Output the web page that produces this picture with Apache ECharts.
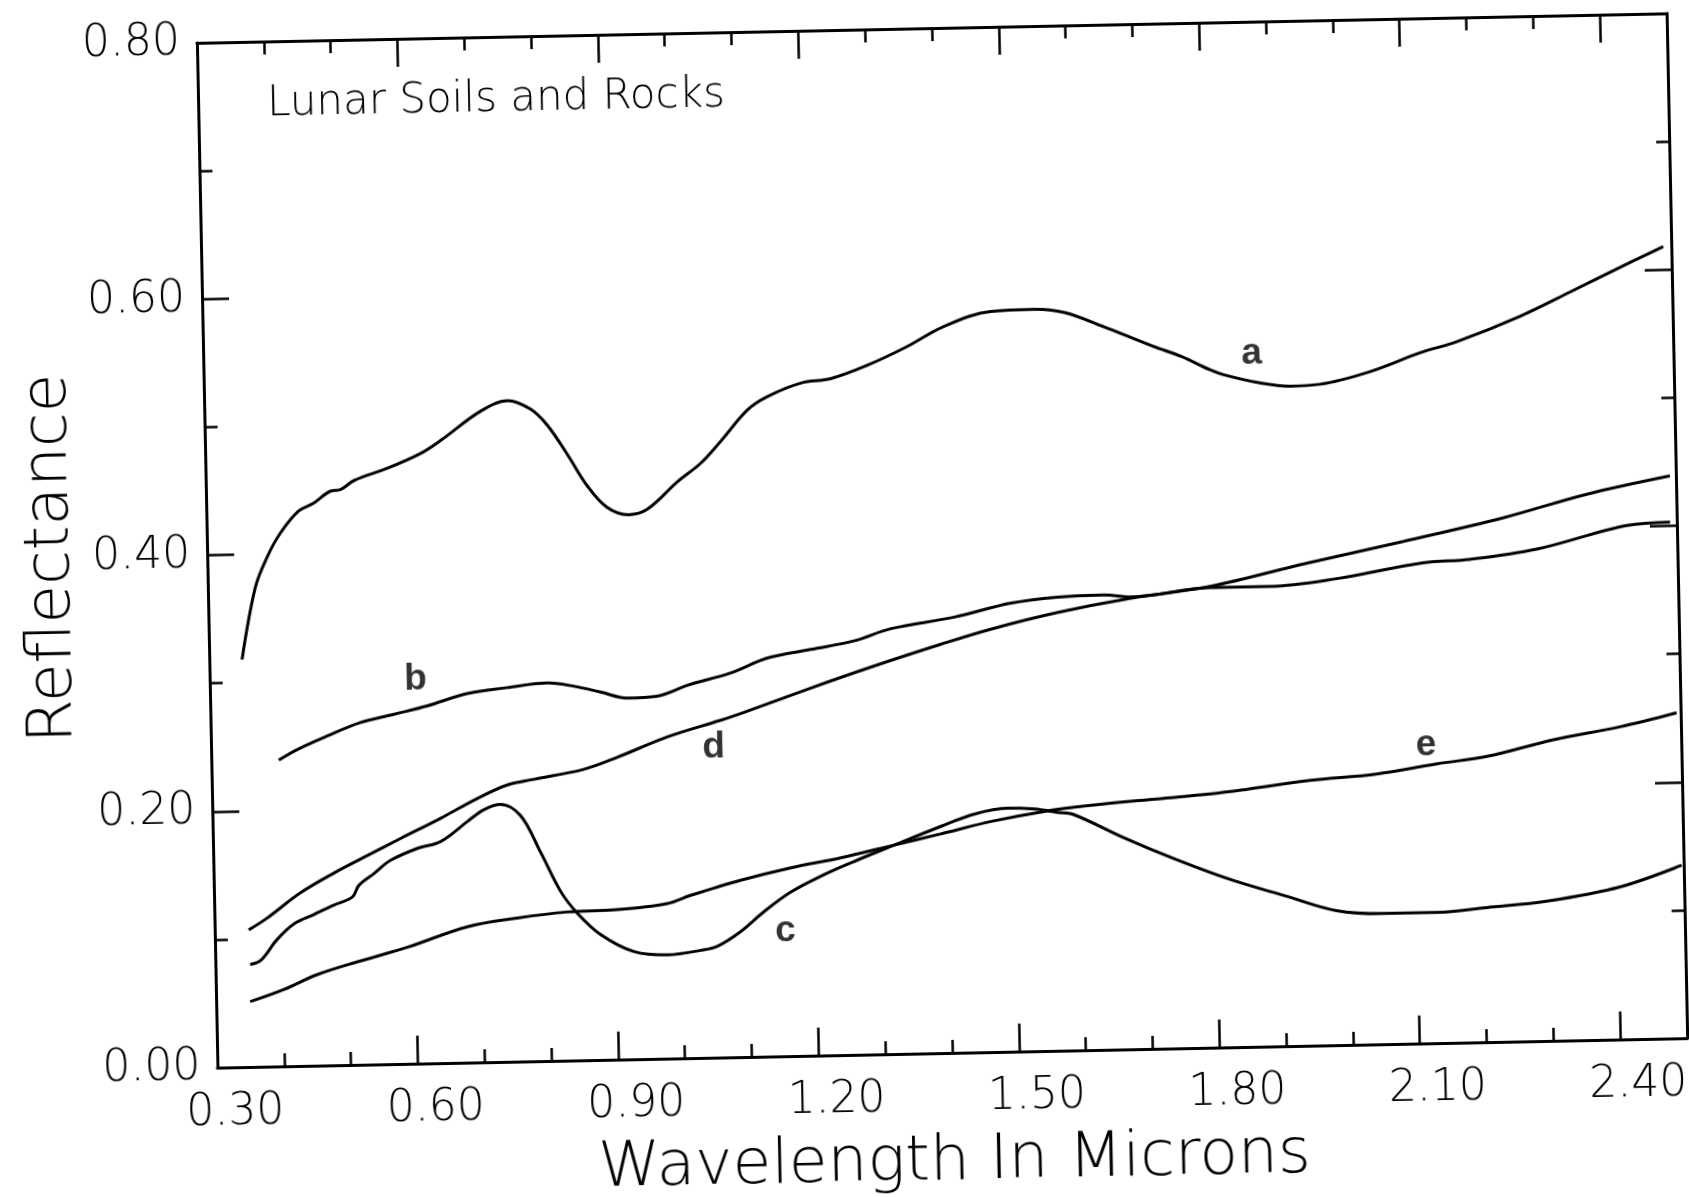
<!DOCTYPE html>
<html>
<head>
<meta charset="utf-8">
<title>Lunar Soils and Rocks</title>
<script src="https://cdn.jsdelivr.net/npm/echarts@6/dist/echarts.min.js"></script>
<style>
  html, body { margin: 0; padding: 0; background: #fff; overflow: hidden; }
  /* the printed figure sits slightly tilted on the page */
  #chart {
    width: 1689px; height: 1197px;
    transform: rotate(-1.15deg);
    transform-origin: 941.6px 538.8px;
  }
</style>
</head>
<body>
<div id="chart"></div>
<script>
// Reflectance spectra, [wavelength (microns), reflectance]
const curveA = [[0.349,0.318],[0.371,0.374],[0.390,0.398],[0.410,0.416],[0.438,0.433],[0.461,0.439],[0.486,0.448],[0.501,0.449],[0.522,0.456],[0.572,0.465],[0.622,0.476],[0.653,0.486],[0.713,0.508],[0.754,0.516],[0.788,0.509],[0.813,0.496],[0.842,0.473],[0.871,0.448],[0.900,0.431],[0.932,0.425],[0.960,0.429],[1.006,0.450],[1.041,0.464],[1.072,0.481],[1.113,0.505],[1.143,0.515],[1.193,0.525],[1.238,0.528],[1.294,0.538],[1.354,0.552],[1.409,0.567],[1.480,0.578],[1.545,0.579],[1.590,0.576],[1.654,0.563],[1.723,0.548],[1.763,0.540],[1.806,0.529],[1.826,0.525],[1.880,0.518],[1.925,0.515],[1.970,0.516],[2.045,0.525],[2.121,0.539],[2.176,0.547],[2.272,0.566],[2.347,0.584],[2.408,0.599],[2.488,0.618]];
const curveB = [[0.401,0.239],[0.429,0.247],[0.474,0.257],[0.524,0.267],[0.575,0.273],[0.625,0.279],[0.685,0.288],[0.745,0.292],[0.805,0.295],[0.845,0.292],[0.885,0.287],[0.924,0.282],[0.969,0.283],[1.015,0.291],[1.080,0.300],[1.135,0.311],[1.200,0.317],[1.265,0.323],[1.321,0.332],[1.416,0.340],[1.501,0.350],[1.571,0.354],[1.641,0.355],[1.681,0.353],[1.799,0.359],[1.889,0.359],[1.989,0.364],[2.119,0.375],[2.189,0.377],[2.290,0.384],[2.425,0.401],[2.490,0.403]];
const curveC = [[0.352,0.080],[0.368,0.083],[0.393,0.099],[0.419,0.111],[0.449,0.118],[0.479,0.125],[0.507,0.131],[0.517,0.140],[0.540,0.149],[0.565,0.159],[0.606,0.168],[0.641,0.173],[0.681,0.188],[0.706,0.197],[0.731,0.201],[0.761,0.192],[0.790,0.163],[0.819,0.132],[0.843,0.115],[0.877,0.098],[0.927,0.084],[0.977,0.081],[1.027,0.084],[1.052,0.087],[1.087,0.098],[1.122,0.113],[1.163,0.128],[1.213,0.141],[1.264,0.152],[1.319,0.163],[1.390,0.177],[1.440,0.186],[1.490,0.190],[1.530,0.189],[1.565,0.186],[1.589,0.184],[1.664,0.165],[1.738,0.148],[1.821,0.131],[1.905,0.117],[1.979,0.105],[2.049,0.102],[2.129,0.102],[2.204,0.105],[2.294,0.109],[2.404,0.119],[2.497,0.135]];
const curveD = [[0.351,0.107],[0.379,0.116],[0.429,0.135],[0.480,0.150],[0.530,0.163],[0.581,0.176],[0.641,0.191],[0.697,0.206],[0.742,0.216],[0.782,0.220],[0.857,0.227],[0.908,0.236],[0.983,0.251],[1.062,0.263],[1.093,0.268],[1.194,0.286],[1.294,0.303],[1.395,0.319],[1.470,0.330],[1.571,0.342],[1.681,0.352],[1.800,0.360],[1.940,0.376],[2.090,0.392],[2.241,0.409],[2.366,0.426],[2.491,0.439]];
const curveE = [[0.351,0.051],[0.402,0.060],[0.452,0.071],[0.517,0.081],[0.588,0.091],[0.678,0.106],[0.753,0.112],[0.828,0.116],[0.903,0.117],[0.978,0.121],[1.013,0.127],[1.088,0.138],[1.164,0.147],[1.239,0.154],[1.319,0.163],[1.389,0.171],[1.465,0.180],[1.545,0.187],[1.615,0.191],[1.715,0.195],[1.794,0.198],[1.848,0.201],[1.943,0.207],[2.043,0.211],[2.134,0.218],[2.209,0.223],[2.309,0.235],[2.409,0.244],[2.494,0.254]];

// Curve letters and where they are written
const curveNames = ['a', 'b', 'c', 'd', 'e'];
const namePositions = [[1.869, 0.541], [0.608, 0.2995], [1.154, 0.0974], [1.052, 0.242], [2.118, 0.2325]];

// Axis ranges and tick spacing
const xRange = [0.3, 2.5];
const xMajorStep = 0.3;
const xMinorStep = 0.1;
const yRange = [0, 0.8];
const yMajorStep = 0.2;

const titleText = 'Lunar Soils and Rocks';
const xTitle = 'Wavelength In Microns';
const yTitle = 'Reflectance';

const FONT = '"DejaVu Sans", "Liberation Sans", sans-serif';
const LIGHT = 200;
const INK = '#000';

function xAxisDef(position, step, tickLen, withLine, withLabels) {
  return {
    type: 'value', position: position, min: xRange[0], max: xRange[1], interval: step,
    axisLine: { show: withLine, lineStyle: { color: INK, width: 3 } },
    axisTick: { show: true, inside: true, length: tickLen, lineStyle: { color: INK, width: 2.5 } },
    axisLabel: withLabels ? {
      show: true, showMaxLabel: false, margin: 24, fontSize: 44, fontFamily: FONT, fontWeight: LIGHT,
      color: INK, padding: [0, 0, 0, 34],
      formatter: v => v.toFixed(2)
    } : { show: false },
    splitLine: { show: false },
    name: withLabels ? xTitle : '',
    nameLocation: 'middle', nameGap: 78, nameMoveOverlap: false,
    nameTextStyle: { fontSize: 63, fontFamily: FONT, fontWeight: LIGHT, color: INK }
  };
}

function yAxisDef(position, withLabels) {
  return {
    type: 'value', position: position, min: yRange[0], max: yRange[1], interval: yMajorStep,
    axisLine: { show: true, lineStyle: { color: INK, width: 3 } },
    axisTick: { show: true, inside: true, length: 27, lineStyle: { color: INK, width: 2.5 } },
    minorTick: { show: true, splitNumber: 2, length: 13, lineStyle: { color: INK, width: 2.5 } },
    axisLabel: withLabels ? {
      show: true, margin: 17, fontSize: 44, fontFamily: FONT, fontWeight: LIGHT, color: INK,
      formatter: v => v.toFixed(2)
    } : { show: false },
    splitLine: { show: false },
    minorSplitLine: { show: false },
    name: withLabels ? yTitle : '',
    nameLocation: 'middle', nameGap: 124, nameMoveOverlap: false,
    nameTextStyle: { fontSize: 63, fontFamily: FONT, fontWeight: LIGHT, color: INK }
  };
}

function curveSeries(data) {
  return {
    type: 'line', data: data, xAxisIndex: 0, yAxisIndex: 0,
    showSymbol: false, symbol: 'none', smooth: 0.35,
    lineStyle: { color: INK, width: 3 },
    silent: true, animation: false
  };
}

const chart = echarts.init(document.getElementById('chart'), null, { renderer: 'canvas' });
chart.setOption({
  backgroundColor: '#fff',
  animation: false,
  title: {
    text: titleText, left: 276, top: 70, padding: 0,
    textStyle: { fontSize: 42, fontFamily: FONT, fontWeight: LIGHT, color: INK }
  },
  grid: { left: 207, top: 28, width: 1470, height: 1025, containLabel: false, outerBoundsMode: 'none' },
  xAxis: [
    xAxisDef('bottom', xMajorStep, 28, true, true),
    xAxisDef('bottom', xMinorStep, 13, false, false),
    xAxisDef('top', xMajorStep, 28, true, false),
    xAxisDef('top', xMinorStep, 13, false, false)
  ],
  yAxis: [yAxisDef('left', true), yAxisDef('right', false)],
  series: [
    curveSeries(curveA), curveSeries(curveB), curveSeries(curveC), curveSeries(curveD), curveSeries(curveE),
    {
      type: 'scatter', xAxisIndex: 0, yAxisIndex: 0, symbolSize: 0, silent: true,
      data: curveNames.map((n, i) => ({ name: n, value: namePositions[i] })),
      label: {
        show: true, position: 'inside', formatter: '{b}',
        fontSize: 37, fontWeight: 'bold', fontFamily: '"Liberation Sans", Arial, sans-serif', color: INK
      }
    }
  ]
});
</script>
</body>
</html>
